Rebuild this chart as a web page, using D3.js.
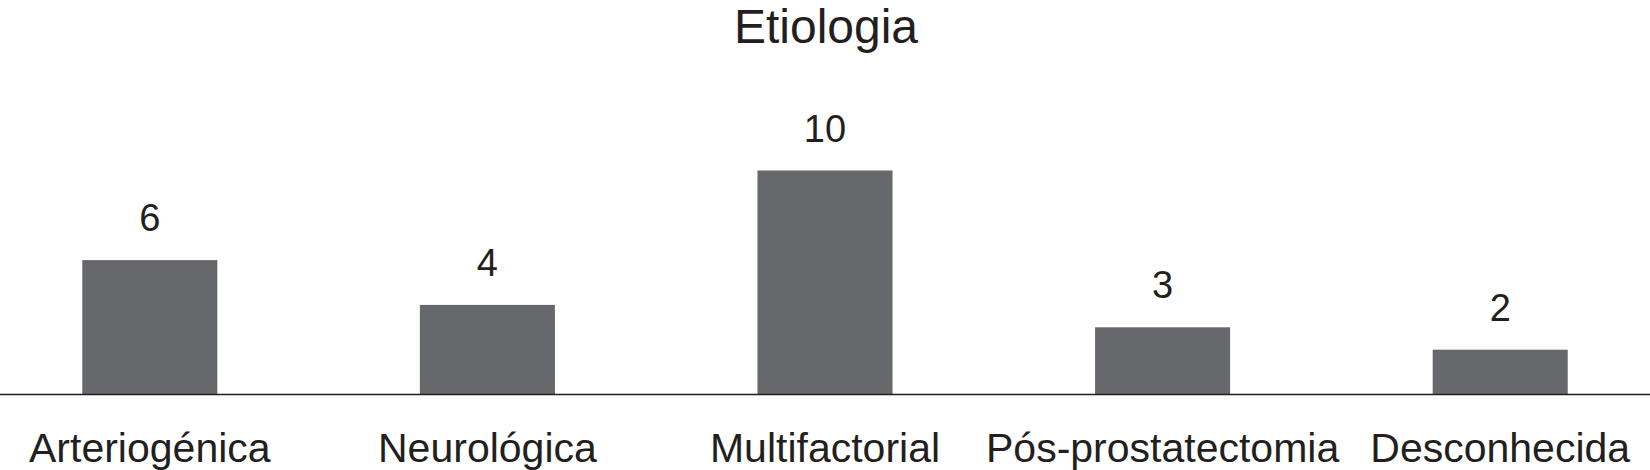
<!DOCTYPE html>
<html>
<head>
<meta charset="utf-8">
<script src="https://cdn.jsdelivr.net/npm/d3@7"></script>
<style>
  body { margin: 0; background: #fff; }
  svg { display: block; }
  text { font-family: "Liberation Sans", Arial, Helvetica, sans-serif; fill: #231f20; }
</style>
</head>
<body>
<script>
// Chart data
const categories = ["Arteriogénica", "Neurológica", "Multifactorial", "Pós-prostatectomia", "Desconhecida"];
const counts = [6, 4, 10, 3, 2];
const title = "Etiologia";

// Dimensions
const width = 1650, height = 470;
const baseline = 394.5;

const svg = d3.select("body").append("svg")
    .attr("width", width)
    .attr("height", height)
    .attr("viewBox", [0, 0, width, height]);

// Scales
const x = d3.scaleBand()
    .domain(categories)
    .range([-19, 1669])
    .paddingInner(0.6)
    .paddingOuter(0.3);

const y = d3.scaleLinear()
    .domain([0, 10])
    .range([baseline, 170.5]);

// Title
svg.append("text")
    .attr("x", 826)
    .attr("y", 42.5)
    .attr("text-anchor", "middle")
    .style("font-size", "48px")
    .text(title);

// Bars
svg.selectAll("rect.bar")
    .data(counts)
    .enter().append("rect")
    .attr("class", "bar")
    .attr("x", (d, i) => x(categories[i]))
    .attr("y", d => y(d))
    .attr("width", x.bandwidth())
    .attr("height", d => y(0) - y(d))
    .style("fill", "#67686b");

// Value labels above bars
svg.selectAll("text.value")
    .data(counts)
    .enter().append("text")
    .attr("class", "value")
    .attr("x", (d, i) => x(categories[i]) + x.bandwidth() / 2)
    .attr("y", d => y(d) - 29)
    .attr("text-anchor", "middle")
    .style("font-size", "38px")
    .text(d => d);

// Baseline axis
const xAxis = d3.axisBottom(x).tickSize(0).tickPadding(0);
const axisG = svg.append("g")
    .attr("transform", "translate(0," + baseline + ")")
    .call(xAxis);
axisG.select(".domain").remove();
axisG.selectAll("text")
    .attr("y", 67.5)
    .attr("dy", null)
    .style("font-size", "41px")
    .style("fill", "#231f20");

svg.append("line")
    .attr("x1", 0)
    .attr("x2", width)
    .attr("y1", baseline)
    .attr("y2", baseline)
    .style("stroke", "#231f20")
    .style("stroke-width", 1.5);
</script>
</body>
</html>
